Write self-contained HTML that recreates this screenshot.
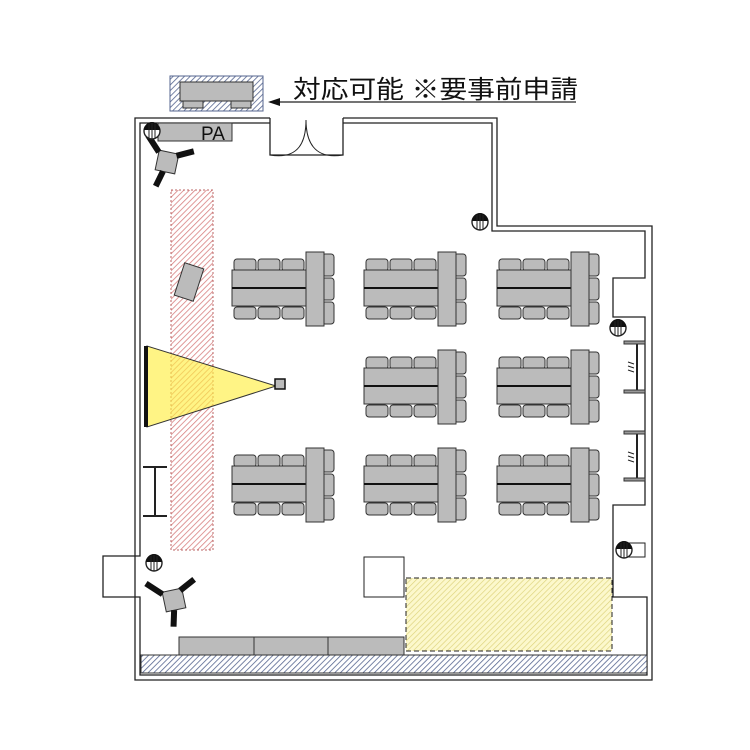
<!DOCTYPE html>
<html><head><meta charset="utf-8"><style>html,body{margin:0;padding:0;background:#fff}svg{display:block}</style></head>
<body>
<svg width="750" height="750" viewBox="0 0 750 750" xmlns="http://www.w3.org/2000/svg">
<defs>
<pattern id="hb" width="4" height="4" patternUnits="userSpaceOnUse" patternTransform="rotate(45)"><rect width="4" height="4" fill="#fff"/><line x1="0" y1="0" x2="0" y2="4" stroke="#55658f" stroke-width="1.6"/></pattern>
<pattern id="hr" width="4" height="4" patternUnits="userSpaceOnUse" patternTransform="rotate(45)"><rect width="4" height="4" fill="#fff"/><line x1="0" y1="0" x2="0" y2="4" stroke="#d88080" stroke-width="1.6"/></pattern>
<pattern id="hy" width="4" height="4" patternUnits="userSpaceOnUse" patternTransform="rotate(45)"><rect width="4" height="4" fill="#fcf8cc"/><line x1="0" y1="0" x2="0" y2="4" stroke="#dcd27a" stroke-width="1.3"/></pattern>
<g id="chair"><rect x="0" y="0" width="22" height="12" rx="3" fill="#bbb" stroke="#333" stroke-width="1"/></g>
<g id="chairR"><rect x="0" y="0" width="12" height="22" rx="3" fill="#bbb" stroke="#333" stroke-width="1"/></g>
<g id="tg">
<use href="#chair" x="2" y="7"/><use href="#chair" x="26" y="7"/><use href="#chair" x="50" y="7"/>
<use href="#chair" x="2" y="55"/><use href="#chair" x="26" y="55"/><use href="#chair" x="50" y="55"/>
<use href="#chairR" x="90" y="2"/><use href="#chairR" x="90" y="26"/><use href="#chairR" x="90" y="50"/>
<rect x="0" y="18" width="74" height="36" fill="#bbb" stroke="#333" stroke-width="1"/>
<line x1="0" y1="36" x2="74" y2="36" stroke="#111" stroke-width="2"/>
<rect x="74" y="0" width="18" height="74" fill="#bbb" stroke="#333" stroke-width="1"/>
</g>
<g id="cir"><circle r="8" fill="#fff" stroke="#222" stroke-width="1.4"/><path d="M-8,-1 A8,8 0 0 1 8,-1 Z" fill="#111"/><line x1="-3" y1="-7" x2="-3" y2="7" stroke="#222"/><line x1="0" y1="-8" x2="0" y2="8" stroke="#222"/><line x1="3" y1="-7" x2="3" y2="7" stroke="#222"/></g>
<g id="cam"><rect x="-10" y="-10" width="20" height="20" fill="#bbb" stroke="#333"/><line x1="-10" y1="-8" x2="-24" y2="-22" stroke="#111" stroke-width="6"/><line x1="8" y1="-8" x2="24" y2="-16" stroke="#111" stroke-width="6"/><line x1="-2" y1="10" x2="-6" y2="26" stroke="#111" stroke-width="6"/></g>
</defs>

<rect x="170" y="76" width="93" height="35" fill="url(#hb)" stroke="#55658f"/>
<rect x="180" y="82" width="73" height="19" fill="#bbb" stroke="#333"/>
<rect x="183" y="101" width="20" height="7" fill="#bbb" stroke="#333"/>
<rect x="231" y="101" width="20" height="7" fill="#bbb" stroke="#333"/>
<line x1="270" y1="102" x2="576" y2="102" stroke="#222" stroke-width="1.3"/>
<polygon points="268,102 280,98 280,106" fill="#111"/>
<text x="293" y="98" font-family="Liberation Sans, Noto Sans CJK JP, sans-serif" font-size="25" fill="#111" textLength="285" lengthAdjust="spacingAndGlyphs">対応可能 ※要事前申請</text>

<path d="M270,118 H135 V680 H652 V226 H497 V118 H343" fill="none" stroke="#222" stroke-width="1.3"/>
<path d="M270,123 H140 V556 H103 V597 H140 V675 H647 V597 H613 V505 H645 V317 H613 V278 H645 V231 H492 V123 H343" fill="none" stroke="#222" stroke-width="1.3"/>
<path d="M270,118 V155 H343 V118" fill="none" stroke="#222" stroke-width="1.3"/>
<path d="M270,155 C300,160 306,140 306,120 M343,155 C313,160 306,140 306,120" fill="none" stroke="#222" stroke-width="1"/>

<g stroke="#222" stroke-width="2"><line x1="637" y1="342" x2="637" y2="392"/><line x1="637" y1="432" x2="637" y2="480"/></g>
<g fill="#999" stroke="#333"><rect x="624" y="341" width="21" height="3"/><rect x="624" y="390" width="21" height="3"/><rect x="624" y="431" width="21" height="3"/><rect x="624" y="478" width="21" height="3"/></g>
<g stroke="#222"><path d="M628,362 l6,2 M628,366 l6,2 M628,370 l6,2 M628,452 l6,2 M628,456 l6,2 M628,460 l6,2"/></g>
<rect x="625" y="543" width="20" height="14" fill="#fff" stroke="#222"/>

<rect x="171" y="190" width="42" height="360" fill="url(#hr)" stroke="#b66" stroke-dasharray="2,2"/>
<polygon points="147,346 147,427 276,386" fill="#ffee44" fill-opacity="0.65" stroke="#333" stroke-width="1"/>
<rect x="144" y="346" width="4" height="81" fill="#111"/>
<rect x="275" y="379" width="10" height="10" fill="#bbb" stroke="#111" stroke-width="1.5"/>
<rect x="179" y="265" width="20" height="34" fill="#bbb" stroke="#333" transform="rotate(18 189 282)"/>

<g stroke="#222" stroke-width="2"><line x1="143" y1="467" x2="167" y2="467"/><line x1="143" y1="516" x2="167" y2="516"/><line x1="155" y1="467" x2="155" y2="516"/></g>

<rect x="158" y="123" width="74" height="18" fill="#bbb" stroke="#333"/>
<text x="201" y="140" font-family="Liberation Sans, sans-serif" font-size="19" fill="#111">PA</text>

<use href="#cam" transform="translate(167,162) rotate(12)"/>
<use href="#cam" transform="translate(174,600) rotate(-12)"/>

<use href="#cir" x="152" y="131"/>
<use href="#cir" x="480" y="222"/>
<use href="#cir" x="618" y="328"/>
<use href="#cir" x="154" y="563"/>
<use href="#cir" x="624" y="550"/>

<use href="#tg" x="232" y="252"/>
<use href="#tg" x="364" y="252"/>
<use href="#tg" x="497" y="252"/>
<use href="#tg" x="364" y="350"/>
<use href="#tg" x="497" y="350"/>
<use href="#tg" x="232" y="448"/>
<use href="#tg" x="364" y="448"/>
<use href="#tg" x="497" y="448"/>

<rect x="364" y="557" width="40" height="40" fill="#fff" stroke="#222"/>
<rect x="406" y="578" width="206" height="73" fill="url(#hy)" stroke="#222" stroke-dasharray="5,3"/>
<rect x="141" y="655" width="506" height="18" fill="url(#hb)" stroke="#333"/>
<g fill="#bbb" stroke="#333"><rect x="179" y="637" width="75" height="18"/><rect x="254" y="637" width="74" height="18"/><rect x="328" y="637" width="76" height="18"/></g>
</svg>
</body></html>
